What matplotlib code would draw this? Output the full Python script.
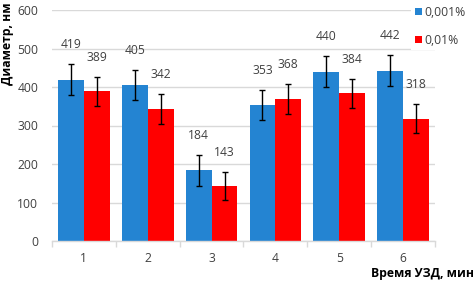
import matplotlib.pyplot as plt
import numpy as np

# data
times = ['1', '2', '3', '4', '5', '6']
d_0001 = [419, 405, 184, 353, 440, 442]
d_001 = [389, 342, 143, 368, 384, 318]
err_0001 = [40, 40, 40, 40, 41, 40]
err_001 = [38, 39, 37, 39, 38, 38]
series_names = ['0,001%', '0,01%']

BLUE = '#2484D2'
RED = '#FF0000'

plt.rcParams['font.family'] = ['Open Sans', 'DejaVu Sans']

fig = plt.figure(figsize=(4.77, 2.86), dpi=100)
ax = fig.add_axes([52 / 477, 1 - 241 / 286, (435 - 52) / 477, (241 - 10) / 286])

x = np.arange(len(times))
w = 0.405
ek = dict(ecolor='black', elinewidth=1.0, capsize=2.5, capthick=1.0)
b1 = ax.bar(x - w / 2, d_0001, w, color=BLUE, yerr=err_0001, error_kw=ek,
            label=series_names[0], zorder=2)
b2 = ax.bar(x + w / 2, d_001, w, color=RED, yerr=err_001, error_kw=ek,
            label=series_names[1], zorder=2)

# value labels sit above the error bars
for xs, vals, errs in [(x - w / 2, d_0001, err_0001), (x + w / 2, d_001, err_001)]:
    for xi, v, e in zip(xs, vals, errs):
        ax.annotate(str(v), (xi, v + e), xytext=(0, 14), textcoords='offset points',
                    ha='center', va='center', fontsize=8.7, color='#404040')

ax.set_xlim(-0.5, len(times) - 0.5)
ax.set_ylim(0, 600)
ax.set_yticks(range(0, 601, 100))
ax.set_xticks(x)
ax.set_xticklabels(times)
ax.set_xticks(np.arange(-0.5, len(times)), minor=True)
ax.tick_params(axis='x', which='major', length=0, pad=8, labelsize=8.7, labelcolor='#404040')
ax.tick_params(axis='x', which='minor', length=4, color='#D9D9D9', width=1)
ax.tick_params(axis='y', length=0, pad=10, labelsize=8.7, labelcolor='#404040')
ax.grid(axis='y', color='#D9D9D9', linewidth=1, zorder=0)
for s in ['top', 'right', 'left']:
    ax.spines[s].set_visible(False)
ax.spines['bottom'].set_color('#D9D9D9')
ax.spines['bottom'].set_linewidth(1)
ax.set_axisbelow(True)

leg = ax.legend(loc='upper left', bbox_to_anchor=(411 / 477, 1 - 2 / 286),
                bbox_transform=fig.transFigure, frameon=True, fancybox=False,
                edgecolor='none', facecolor='white', framealpha=1,
                fontsize=8.7, handlelength=0.6, handleheight=0.6,
                handletextpad=0.2, labelspacing=1.25, borderpad=0.3, borderaxespad=0)
for t in leg.get_texts():
    t.set_color('#404040')

fig.text(8 / 477, 1 - 2 / 286, 'Диаметр, нм', rotation=90, ha='center', va='top',
         fontsize=8.7, fontweight='bold', color='black')
fig.text(474 / 477, 1 - 273 / 286, 'Время УЗД, мин', ha='right', va='center',
         fontsize=8.7, fontweight='bold', color='black')

fig.savefig('out.png', dpi=100)
